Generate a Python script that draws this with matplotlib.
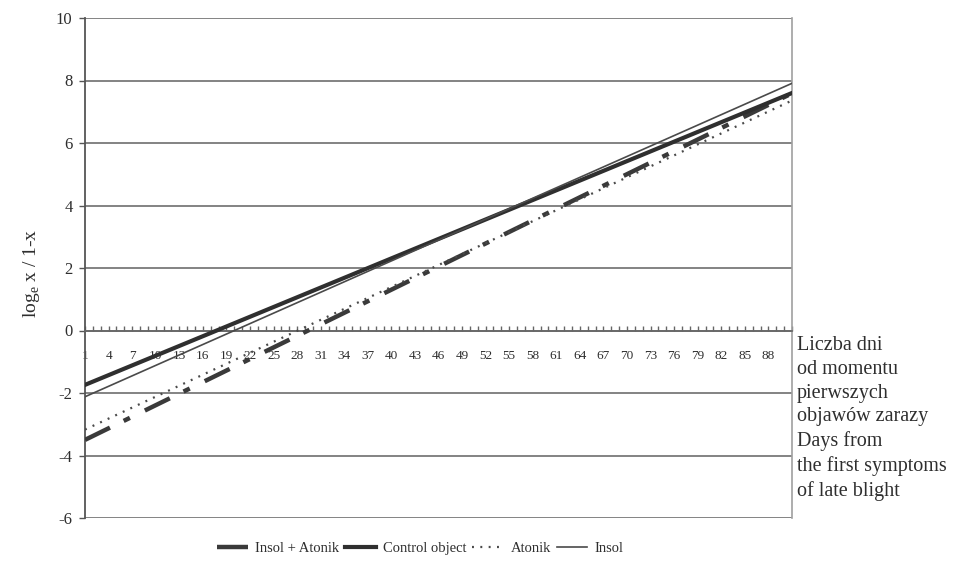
import matplotlib
matplotlib.use("Agg")
import matplotlib.pyplot as plt
from matplotlib.lines import Line2D

# ---- data (trend lines: value at first and last day) ----
days = [1, 91]
insol_atonik = [-3.50, 7.59]
control = [-1.74, 7.60]
atonik = [-3.17, 7.36]
insol = [-2.12, 7.91]

x_tick_pos = [1, 4, 7, 10, 13, 16, 19, 22, 25, 28, 31, 34, 37, 40, 43, 46, 49,
              52, 55, 58, 61, 64, 67, 70, 73, 76, 79, 82, 85, 88]
x_tick_labels = [str(v) for v in x_tick_pos]
y_ticks = [-6, -4, -2, 0, 2, 4, 6, 8, 10]

series_names = ["Insol + Atonik", "Control object", "Atonik", "Insol"]

plt.rcParams['font.family'] = ['Liberation Serif', 'DejaVu Serif']
plt.rcParams['lines.scale_dashes'] = False

txt = '#2e2e2e'
fig = plt.figure(figsize=(9.71, 5.65), dpi=100)
ax = fig.add_axes([85/971, 1-518/565, (792-85)/971, (518-18)/565])

# gridlines
for v in y_ticks:
    ax.axhline(v, color='#7a7a7a', lw=1.3, zorder=1)

l1, = ax.plot(days, insol_atonik, color='#3a3a3a', lw=3.2,
              dashes=(20, 11, 5, 12), solid_capstyle='butt', zorder=3)
l2, = ax.plot(days, control, color='#2f2f2f', lw=3.0, zorder=4)
l3, = ax.plot(days, atonik, color='#4a4a4a', lw=1.6, dashes=(1.4, 4.6), zorder=3)
l4, = ax.plot(days, insol, color='#4a4a4a', lw=1.2, zorder=4)

ax.set_xlim(1, 91)
ax.set_ylim(-6, 10)

# spines
ax.spines['top'].set_visible(False)
ax.spines['right'].set_color('#a0a0a0')
ax.spines['right'].set_linewidth(1.2)
ax.spines['left'].set_color('#555555')
ax.spines['left'].set_linewidth(1.3)
ax.spines['bottom'].set_position(('data', 0))
ax.spines['bottom'].set_color('#666666')
ax.spines['bottom'].set_linewidth(1.2)

ax.set_xticks(x_tick_pos)
ax.set_xticklabels(x_tick_labels, fontsize=9.5, color=txt)
ax.set_xticks(range(1, 92), minor=True)
ax.tick_params(axis='x', which='both', direction='in', length=3.5, width=1,
               color='#666666', pad=14)

ax.set_yticks(y_ticks)
ax.set_yticklabels([str(v) for v in y_ticks], fontsize=12, color=txt)
ax.tick_params(axis='y', direction='out', length=4, width=1, color='#555555', pad=5)

ax.set_ylabel("log$_\\mathregular{e}$ x / 1-x", fontsize=14, color=txt)
ax.yaxis.set_label_coords(-0.061, 0.49)

fig.text(797/971, 1-336/565,
         "Liczba dni\nod momentu\npierwszych\nobjawów zarazy\nDays from\nthe first symptoms\nof late blight",
         fontsize=14.5, color=txt, va='top', ha='left', linespacing=1.34)

handles = [Line2D([], [], color='#3a3a3a', lw=3.2, solid_capstyle='butt'),
           Line2D([], [], color='#2f2f2f', lw=3.0),
           Line2D([], [], color='#4a4a4a', lw=1.6, dashes=(1.4, 4.6)),
           Line2D([], [], color='#4a4a4a', lw=1.2)]
leg = fig.legend(handles, series_names, loc='center', bbox_to_anchor=(0.433, 0.03),
                 ncol=4, frameon=False, fontsize=10.5, handlelength=2.1,
                 handletextpad=0.5, columnspacing=0.4)
for t in leg.get_texts():
    t.set_color(txt)

fig.savefig("out.png", dpi=100)
